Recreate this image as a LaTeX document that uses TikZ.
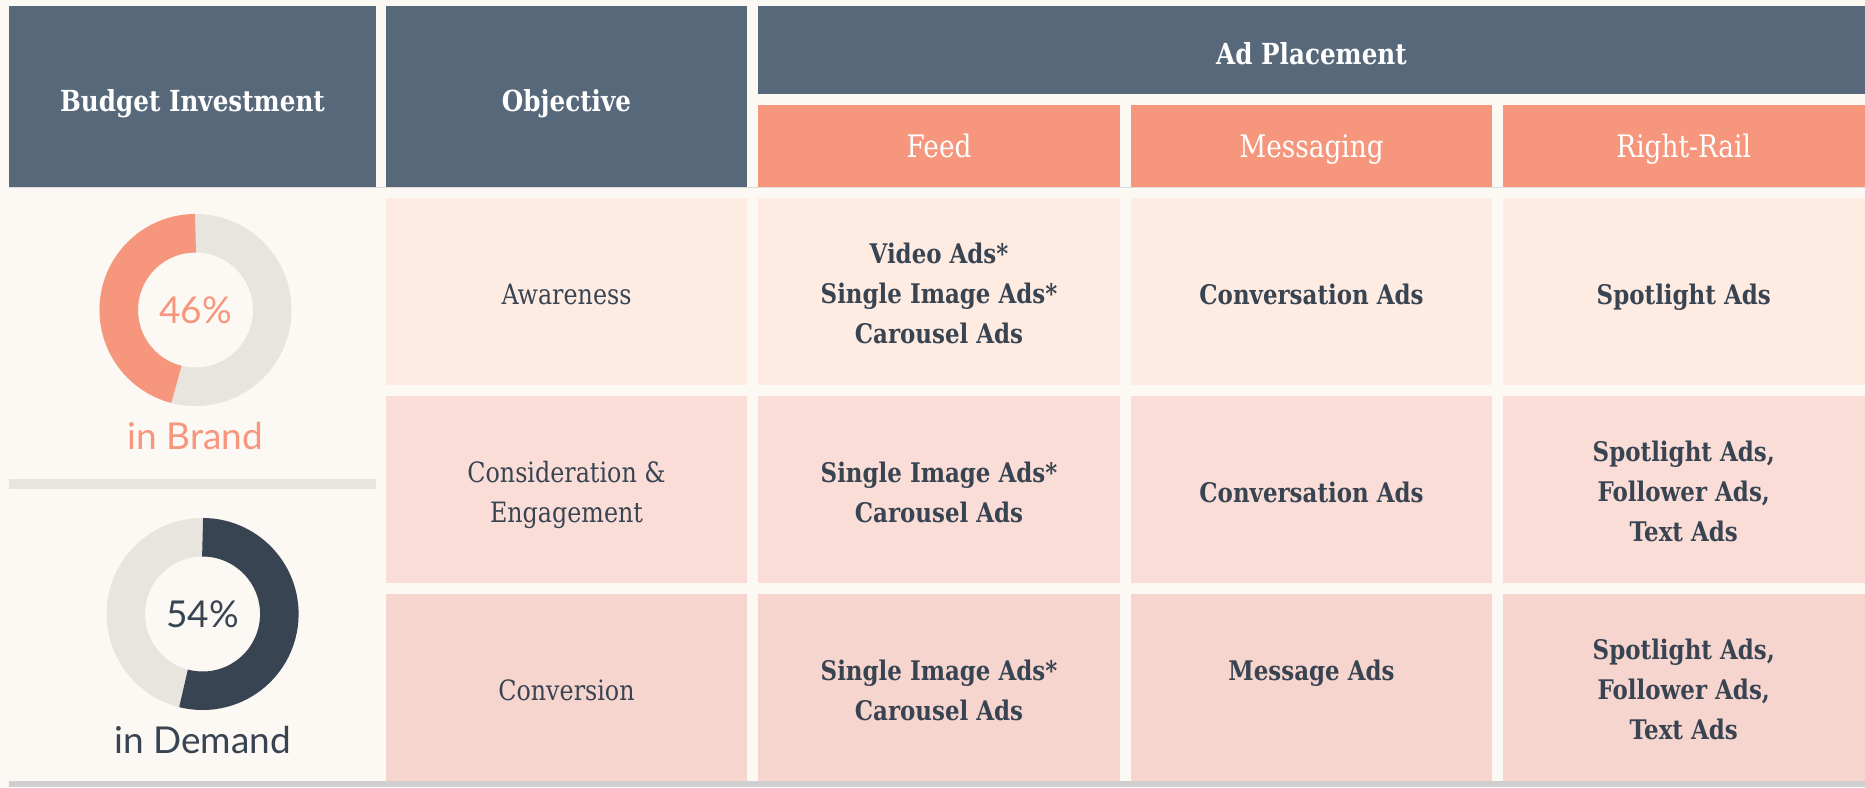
\documentclass[tikz,border=0pt]{standalone}
\usepackage{fontspec}
\setmainfont{DejaVu Serif}[FakeStretch=0.85]
\newfontfamily\donutfont{Lato}

\definecolor{bgcream}{RGB}{252,248,243}
\definecolor{headslate}{RGB}{86,104,122}
\definecolor{headorange}{RGB}{246,151,125}
\definecolor{rowone}{RGB}{254,236,227}
\definecolor{rowtwo}{RGB}{250,221,215}
\definecolor{rowthree}{RGB}{246,213,207}
\definecolor{ringgray}{RGB}{232,229,223}
\definecolor{textdark}{RGB}{57,68,82}
\definecolor{linegray}{RGB}{207,207,207}

\begin{document}
\begin{tikzpicture}[x=1pt,y=-1pt]

\tikzstyle{cell}=[rectangle, inner sep=0pt, outer sep=0pt, align=center,
    text height=35pt, text depth=9pt]
\tikzstyle{twolines}=[text height=75pt]
\tikzstyle{threelines}=[text height=113pt]
\tikzstyle{headcell}=[cell, fill=headslate, text=white,
    text height=36pt, text depth=7pt,
    font=\fontsize{29}{36}\selectfont\bfseries]
\tikzstyle{subhead}=[cell, fill=headorange, text=white, minimum height=82pt,
    text height=32pt, text depth=8.5pt,
    font=\fontsize{31}{36}\selectfont]
\tikzstyle{objcell}=[cell, text=textdark, minimum width=361pt,
    minimum height=187pt, font=\fontsize{28}{40}\selectfont]
\tikzstyle{adcell}=[cell, text=textdark, minimum height=187pt,
    font=\fontsize{27}{40}\selectfont\bfseries]
\tikzstyle{ring}=[line width=38.5pt]

  \fill[bgcream] (0,0) rectangle (1865,787);
  \useasboundingbox (0,0) rectangle (1865,787);

  % headers
  \node[headcell, minimum width=367pt, minimum height=181pt] (budget) at (192.5,96.5) {Budget Investment};
  \node[headcell, minimum width=361pt, minimum height=181pt] (objective) at (566.5,96.5) {Objective};
  \node[headcell, minimum width=1107pt, minimum height=88pt] (placement) at (1311.5,50) {Ad Placement};

  \node[subhead, minimum width=362pt] (feed) at (939,146) {Feed};
  \node[subhead, minimum width=361pt] (messaging) at (1311.5,146) {Messaging};
  \node[subhead, minimum width=362.5pt] (rightrail) at (1683.75,146) {Right-Rail};

  \draw[linegray!70, line width=1pt] (9,187.5) -- (1865,187.5);

  % objectives
  \node[objcell, fill=rowone] (awareness) at (566.5,291.5) {Awareness};
  \node[objcell, twolines, fill=rowtwo] (consideration) at (566.5,489.5) {Consideration \&\\Engagement};
  \node[objcell, fill=rowthree] (conversion) at (566.5,687.5) {Conversion};

  % awareness row
  \node[adcell, threelines, fill=rowone, minimum width=362pt] (feedone) at (939,291.5) {Video Ads*\\Single Image Ads*\\Carousel Ads};
  \node[adcell, fill=rowone, minimum width=361pt] (msgone) at (1311.5,291.5) {Conversation Ads};
  \node[adcell, fill=rowone, minimum width=362.5pt] (railone) at (1683.75,291.5) {Spotlight Ads};

  % consideration row
  \node[adcell, twolines, fill=rowtwo, minimum width=362pt] (feedtwo) at (939,489.5) {Single Image Ads*\\Carousel Ads};
  \node[adcell, fill=rowtwo, minimum width=361pt] (msgtwo) at (1311.5,489.5) {Conversation Ads};
  \node[adcell, threelines, fill=rowtwo, minimum width=362.5pt] (railtwo) at (1683.75,489.5) {Spotlight Ads,\\Follower Ads,\\Text Ads};

  % conversion row
  \node[adcell, twolines, fill=rowthree, minimum width=362pt] (feedthree) at (939,687.5) {Single Image Ads*\\Carousel Ads};
  \node[adcell, twolines, fill=rowthree, minimum width=361pt] (msgthree) at (1311.5,687.5) {Message Ads\\\phantom{Carousel Ads}};
  \node[adcell, threelines, fill=rowthree, minimum width=362.5pt] (railthree) at (1683.75,687.5) {Spotlight Ads,\\Follower Ads,\\Text Ads};

  % budget split
  \fill[ringgray] (9,479) rectangle (376,489);
  \fill[linegray] (9,781) rectangle (1865,787);

  \coordinate (brand) at (195.5,310);
  \coordinate (demand) at (202.6,614);

  \draw[ring, ringgray] (brand) circle[radius=76.75pt];
  \draw[ring, headorange] (brand) ++(90:76.75pt) arc[start angle=90, end angle=255.6, radius=76.75pt];
  \node[font=\donutfont\fontsize{37}{40}\selectfont, text=headorange] (brandpct) at (brand) {46\%};
  \node[font=\donutfont\fontsize{37}{40}\selectfont, text=headorange, anchor=base] (brandlabel) at (195.5,449) {in Brand};

  \draw[ring, ringgray] (demand) circle[radius=76.75pt];
  \draw[ring, textdark] (demand) ++(90:76.75pt) arc[start angle=90, end angle=-104.4, radius=76.75pt];
  \node[font=\donutfont\fontsize{37}{40}\selectfont, text=textdark] (demandpct) at (demand) {54\%};
  \node[font=\donutfont\fontsize{37}{40}\selectfont, text=textdark, anchor=base] (demandlabel) at (202.6,753) {in Demand};

\end{tikzpicture}
\end{document}
